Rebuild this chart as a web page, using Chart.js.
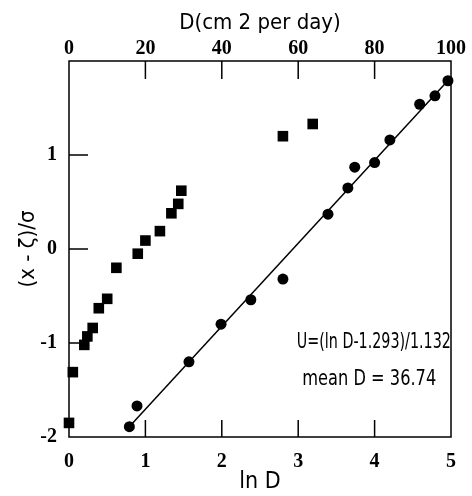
<!DOCTYPE html>
<html>
<head>
<meta charset="utf-8">
<script src="https://cdn.jsdelivr.net/npm/chart.js@4.4.0/dist/chart.umd.min.js"></script>
<style>
  html, body { margin: 0; padding: 0; background: #fff; }
  #wrap { width: 472px; height: 496px; }
</style>
</head>
<body>
<div id="wrap"><canvas id="chart"></canvas></div>
<script>
// squares: first data set (ln D, U)
var squareX = [0.0, 0.05, 0.20, 0.24, 0.31, 0.39, 0.50, 0.62, 0.90, 1.00, 1.19, 1.34, 1.43, 1.47, 2.80, 3.19];
var squareY = [-1.85, -1.31, -1.02, -0.93, -0.84, -0.63, -0.53, -0.20, -0.05, 0.09, 0.19, 0.38, 0.48, 0.62, 1.20, 1.33];

// circles: second data set
var circleX = [0.79, 0.89, 1.57, 1.99, 2.38, 2.80, 3.39, 3.65, 3.74, 4.00, 4.20, 4.59, 4.79, 4.96];
var circleY = [-1.89, -1.67, -1.20, -0.80, -0.54, -0.32, 0.37, 0.65, 0.87, 0.92, 1.16, 1.54, 1.63, 1.79];

// fitted line end points
var fitX = [0.78, 4.97];
var fitY = [-1.90, 1.80];

var noteLines = ['U=(ln D-1.293)/1.132', 'mean D = 36.74'];

function toPoints(xs, ys) {
    var pts = [];
    for (var i = 0; i < xs.length; i++) {
        pts.push({x: xs[i], y: ys[i]});
    }
    return pts;
}

var serif = {family: "'Liberation Serif', 'DejaVu Serif', serif", size: 20, weight: 'bold'};
var narrow = "'DejaVu Sans Condensed', 'Liberation Sans', sans-serif";

// squeeze a text line into a given width (scan font is narrow)
function narrowText(ctx, txt, cx, cy, w) {
    var m = ctx.measureText(txt).width;
    var k = Math.min(1, w / m);
    ctx.save();
    ctx.translate(cx, cy);
    ctx.scale(k, 1);
    ctx.fillText(txt, 0, 0);
    ctx.restore();
}

// box around plot + ticks pointing inward + the two text lines
var frame = {
    id: 'frame',
    afterDraw: function(chart) {
        var ctx = chart.ctx;
        var a = chart.chartArea;
        var sx = chart.scales.x, sx2 = chart.scales.x2, sy = chart.scales.y;
        ctx.save();
        ctx.strokeStyle = '#000';
        ctx.lineWidth = 1.5;
        ctx.strokeRect(a.left, a.top, a.right - a.left, a.bottom - a.top);
        ctx.beginPath();
        sx.ticks.forEach(function(t) {
            var p = sx.getPixelForValue(t.value);
            if (p > a.left + 2 && p < a.right - 2) { ctx.moveTo(p, a.bottom); ctx.lineTo(p, a.bottom - 17); }
        });
        sx2.ticks.forEach(function(t) {
            var p = sx2.getPixelForValue(t.value);
            if (p > a.left + 2 && p < a.right - 2) { ctx.moveTo(p, a.top); ctx.lineTo(p, a.top + 18); }
        });
        sy.ticks.forEach(function(t) {
            var p = sy.getPixelForValue(t.value);
            if (p > a.top + 2 && p < a.bottom - 2) { ctx.moveTo(a.left, p); ctx.lineTo(a.left + 19, p); }
        });
        ctx.stroke();

        ctx.fillStyle = '#000';
        ctx.font = '22px ' + narrow;
        ctx.textAlign = 'center';
        ctx.textBaseline = 'middle';
        narrowText(ctx, noteLines[0], sx.getPixelForValue(3.99), sy.getPixelForValue(-0.99), 154);
        narrowText(ctx, noteLines[1], sx.getPixelForValue(3.93), sy.getPixelForValue(-1.39), 134);
        ctx.restore();
    }
};

var chart = new Chart(document.getElementById('chart'), {
    type: 'scatter',
    data: {
        datasets: [
            {
                label: 'squares',
                data: toPoints(squareX, squareY),
                pointStyle: 'rect',
                pointRadius: 7.5,
                backgroundColor: '#000',
                borderColor: '#000',
                borderWidth: 0,
                clip: false
            },
            {
                label: 'circles',
                data: toPoints(circleX, circleY),
                pointStyle: 'circle',
                pointRadius: 5.5,
                backgroundColor: '#000',
                borderColor: '#000',
                borderWidth: 0,
                clip: false
            },
            {
                label: 'fit',
                type: 'line',
                data: toPoints(fitX, fitY),
                borderColor: '#000',
                borderWidth: 1.5,
                pointRadius: 0,
                fill: false
            }
        ]
    },
    options: {
        responsive: true,
        maintainAspectRatio: false,
        animation: false,
        layout: {padding: {left: 0, right: 21, top: 0, bottom: 0}},
        plugins: {legend: {display: false}, tooltip: {enabled: false}},
        scales: {
            x: {
                type: 'linear', position: 'bottom', min: 0, max: 5,
                grid: {display: false, drawTicks: false},
                border: {display: false},
                ticks: {stepSize: 1, color: '#000', font: serif, padding: 13},
                title: {display: true, text: 'ln D', color: '#000', font: {family: narrow, size: 23}, padding: {top: 0, bottom: 0}},
                afterFit: function(s) { s.height = 59; }
            },
            x2: {
                type: 'linear', position: 'top', min: 0, max: 100,
                grid: {display: false, drawTicks: false},
                border: {display: false},
                ticks: {stepSize: 20, color: '#000', font: serif, padding: 0},
                title: {display: true, text: 'D(cm 2 per day)', color: '#000', font: {family: narrow, size: 22}, padding: {top: 10, bottom: 0}},
                afterFit: function(s) { s.height = 61; }
            },
            y: {
                type: 'linear', position: 'left', min: -2, max: 2,
                grid: {display: false, drawTicks: false},
                border: {display: false},
                ticks: {
                    stepSize: 1, color: '#000', font: serif, padding: 12,
                    callback: function(v) { return v === 2 ? '' : v; }
                },
                title: {display: true, text: '(x - ζ)/σ', color: '#000', font: {family: narrow, size: 22}, padding: {top: 15, bottom: 0}},
                afterFit: function(s) { s.width = 69; }
            }
        }
    },
    plugins: [frame]
});
</script>
</body>
</html>
